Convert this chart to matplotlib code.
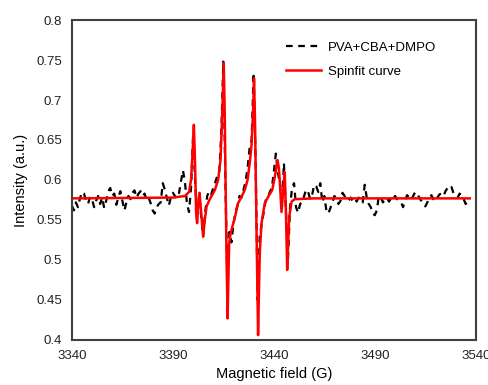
import numpy as np
import matplotlib
matplotlib.use('Agg')
import matplotlib.pyplot as plt
from matplotlib.ticker import FuncFormatter

plt.rcParams['font.family'] = ['Liberation Sans', 'DejaVu Sans']

# Experimental spectrum (PVA+CBA+DMPO), one point per gauss from 3340 G
field_start = 3340
intensity_exp = [
    0.568, 0.562, 0.572, 0.566, 0.577, 0.585, 0.583, 0.574, 0.570, 0.579,  # 3340
    0.576, 0.566, 0.574, 0.580, 0.570, 0.578, 0.565, 0.574, 0.586, 0.590,  # 3350
    0.580, 0.583, 0.569, 0.578, 0.586, 0.574, 0.562, 0.572, 0.580, 0.576,  # 3360
    0.584, 0.587, 0.578, 0.583, 0.586, 0.580, 0.583, 0.575, 0.578, 0.571,  # 3370
    0.562, 0.558, 0.566, 0.570, 0.572, 0.596, 0.588, 0.578, 0.568, 0.578,  # 3380
    0.584, 0.580, 0.577, 0.583, 0.598, 0.612, 0.597, 0.570, 0.560, 0.590,  # 3390
    0.655, 0.600, 0.550, 0.582, 0.555, 0.530, 0.560, 0.580, 0.586, 0.582,  # 3400
    0.590, 0.597, 0.605, 0.610, 0.660, 0.748, 0.600, 0.470, 0.535, 0.522,  # 3410
    0.545, 0.560, 0.568, 0.580, 0.578, 0.588, 0.598, 0.615, 0.640, 0.650,  # 3420
    0.734, 0.620, 0.450, 0.530, 0.545, 0.560, 0.575, 0.578, 0.585, 0.590,  # 3430
    0.610, 0.633, 0.610, 0.595, 0.570, 0.621, 0.560, 0.500, 0.565, 0.590,  # 3440
    0.596, 0.566, 0.559, 0.570, 0.572, 0.580, 0.588, 0.585, 0.576, 0.582,  # 3450
    0.594, 0.592, 0.585, 0.596, 0.572, 0.580, 0.562, 0.558, 0.565, 0.572,  # 3460
    0.580, 0.576, 0.570, 0.574, 0.584, 0.580, 0.576, 0.574, 0.578, 0.574,  # 3470
    0.577, 0.573, 0.578, 0.575, 0.572, 0.594, 0.578, 0.570, 0.566, 0.558,  # 3480
    0.556, 0.562, 0.580, 0.578, 0.572, 0.575, 0.578, 0.573, 0.577, 0.575,  # 3490
    0.580, 0.576, 0.574, 0.572, 0.566, 0.575, 0.581, 0.578, 0.575, 0.580,  # 3500
    0.585, 0.583, 0.578, 0.574, 0.570, 0.567, 0.572, 0.578, 0.581, 0.576,  # 3510
    0.573, 0.578, 0.582, 0.583, 0.580, 0.586, 0.590, 0.588, 0.591, 0.583,  # 3520
    0.580, 0.578, 0.583, 0.580, 0.576, 0.570, 0.574,                       # 3530
]
field_exp = np.arange(len(intensity_exp)) + field_start

# Spinfit simulation, read point by point
field_fit = [3340, 3390, 3396, 3398, 3399, 3399.7, 3400.4, 3401, 3401.5, 3402,
             3402.6, 3403.2, 3404, 3405, 3405.8, 3406.7, 3408.3, 3410.8, 3412.4, 3413.6,
             3414.4, 3415.2, 3415.7, 3416.1, 3416.6, 3417.1, 3417.6, 3417.9, 3418.5, 3419.5,
             3420.7, 3422.3, 3424, 3425.6, 3427, 3428.1, 3429, 3429.7, 3430.2, 3430.7,
             3431.1, 3431.7, 3432.2, 3432.7, 3433.1, 3433.9, 3435.5, 3437.2, 3439.2, 3440.5,
             3441.8, 3442.5, 3443, 3443.8, 3444.6, 3445.4, 3446, 3446.6, 3447.1, 3447.6,
             3448.8, 3450.4, 3460, 3537]
intensity_fit = [0.577, 0.578, 0.580, 0.585, 0.600, 0.630, 0.669, 0.620, 0.560, 0.546,
                 0.570, 0.584, 0.560, 0.529, 0.550, 0.567, 0.576, 0.5875, 0.600, 0.625,
                 0.679, 0.746, 0.680, 0.596, 0.500, 0.427, 0.490, 0.521, 0.532, 0.542,
                 0.553, 0.571, 0.579, 0.5875, 0.600, 0.622, 0.645, 0.685, 0.727, 0.670,
                 0.596, 0.490, 0.406, 0.470, 0.5125, 0.546, 0.571, 0.579, 0.5875, 0.604,
                 0.625, 0.615, 0.596, 0.560, 0.585, 0.610, 0.560, 0.4875, 0.520, 0.554,
                 0.573, 0.576, 0.577, 0.577]

fig = plt.figure(figsize=(4.89, 3.85), dpi=100)
ax = fig.add_axes([0.147, 0.117, 0.826, 0.831])

ax.plot(field_exp, intensity_exp, color='black', lw=1.6, linestyle=(0, (3, 2.5)),
        label='PVA+CBA+DMPO')
ax.plot(field_fit, intensity_fit, color='#ff0000', lw=1.8, label='Spinfit curve')

ax.set_xlim(3340, 3540)
ax.set_ylim(0.4, 0.8)
ax.set_xticks([3340, 3390, 3440, 3490, 3540])
ax.set_yticks([0.4, 0.45, 0.5, 0.55, 0.6, 0.65, 0.7, 0.75, 0.8])
ax.yaxis.set_major_formatter(FuncFormatter(lambda v, p: '%g' % round(v, 2)))
ax.tick_params(length=0, labelsize=9.5, pad=7, colors='#222222')

for s in ax.spines.values():
    s.set_color('#404040')
    s.set_linewidth(1.5)

ax.set_xlabel('Magnetic field (G)', fontsize=10.5, labelpad=4)
ax.set_ylabel('Intensity (a.u.)', fontsize=10.5, labelpad=6)

ax.legend(loc='upper left', bbox_to_anchor=(0.5, 0.97), frameon=False,
          fontsize=9.5, handlelength=2.7, handletextpad=0.5, labelspacing=0.9)

fig.savefig('out.png', dpi=100)
